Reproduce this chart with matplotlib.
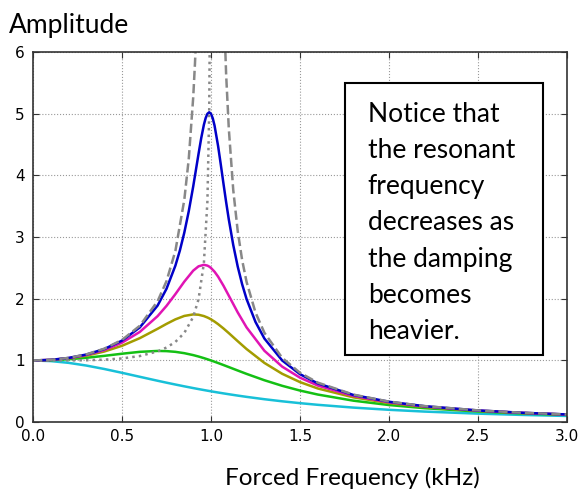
import numpy as np
import matplotlib
matplotlib.use('Agg')
import matplotlib.pyplot as plt
from matplotlib.patches import Rectangle

# forcing frequency (kHz), shared by the damped curves
freq = [0.0, 0.1, 0.2, 0.3, 0.4, 0.5, 0.6, 0.7, 0.75, 0.8, 0.85, 0.9, 0.93, 0.96,
        0.98, 0.99, 1.0, 1.02, 1.04, 1.07, 1.1, 1.15, 1.2, 1.3, 1.4, 1.5, 1.6,
        1.8, 2.0, 2.2, 2.5, 2.75, 3.0]

# lightest damping has a sharp peak, so it gets a finer frequency list
freq_light = [0.0, 0.1, 0.2, 0.3, 0.4, 0.5, 0.6, 0.7, 0.75, 0.8, 0.825, 0.85, 0.875,
              0.9, 0.93, 0.945, 0.96, 0.97, 0.98, 0.99, 1.0, 1.01, 1.02, 1.04, 1.055,
              1.07, 1.085, 1.1, 1.125, 1.15, 1.175, 1.2, 1.25, 1.3, 1.4, 1.5, 1.6,
              1.8, 2.0, 2.2, 2.5, 2.75, 3.0]
amp_light = [1.0, 1.0099, 1.0408, 1.0965, 1.1851, 1.3216, 1.5357, 1.8908, 2.1622,
             2.5384, 2.7818, 3.0728, 3.4188, 3.8208, 4.3499, 4.6046, 4.8218, 4.9309,
             5.0010, 5.0252, 5.0, 4.9262, 4.8086, 4.4756, 4.1777, 3.8694, 3.5692,
             3.2880, 2.8726, 2.5245, 2.2355, 1.9952, 1.6246, 1.3562, 1.0, 0.7779,
             0.6279, 0.4408, 0.3304, 0.2587, 0.1896, 0.1518, 0.1246]

# amplitude for increasing damping
amp_mag = [1.0, 1.0093, 1.0381, 1.0895, 1.1695, 1.2883, 1.4630, 1.7188, 1.8851,
           2.0762, 2.2785, 2.4566, 2.5267, 2.5515, 2.5381, 2.5221, 2.5, 2.4391,
           2.3589, 2.2131, 2.0511, 1.7800, 1.5357, 1.1574, 0.8998, 0.7212, 0.5931,
           0.4250, 0.3221, 0.2538, 0.1871, 0.1503, 0.1236]
amp_olive = [1.0, 1.0082, 1.0336, 1.0780, 1.1447, 1.2380, 1.3618, 1.5136, 1.5933,
             1.6667, 1.7223, 1.7469, 1.7418, 1.7202, 1.6968, 1.6826, 1.6667, 1.6304,
             1.5890, 1.5194, 1.4438, 1.3129, 1.1851, 0.9603, 0.7839, 0.6492, 0.5459,
             0.4021, 0.3095, 0.2463, 0.1831, 0.1478, 0.1220]
amp_green = [1.0, 1.0050, 1.0198, 1.0436, 1.0748, 1.1094, 1.1399, 1.1546, 1.1517,
             1.1399, 1.1184, 1.0871, 1.0641, 1.0382, 1.0196, 1.0099, 1.0, 0.9796,
             0.9586, 0.9261, 0.8930, 0.8373, 0.7824, 0.6795, 0.5891, 0.5121, 0.4475,
             0.3480, 0.2774, 0.2260, 0.1720, 0.1405, 0.1170]
amp_heavy = [1.0, 0.9901, 0.9615, 0.9174, 0.8621, 0.8, 0.7353, 0.6711, 0.64,
             0.6098, 0.5806, 0.5525, 0.5362, 0.5204, 0.5101, 0.5050, 0.5, 0.4901,
             0.4804, 0.4662, 0.4525, 0.4306, 0.4098, 0.3717, 0.3378, 0.3077, 0.2809,
             0.2358, 0.2, 0.1712, 0.1379, 0.1168, 0.1]

# undamped response, two branches either side of resonance
freq_und_lo = [0.0, 0.1, 0.2, 0.3, 0.4, 0.5, 0.6, 0.7, 0.75, 0.8, 0.85, 0.875, 0.9,
               0.91, 0.92, 0.93, 0.96]
amp_und_lo = [1.0, 1.0101, 1.0417, 1.0989, 1.1905, 1.3333, 1.5625, 1.9608, 2.2857,
              2.7778, 3.6036, 4.2667, 5.2632, 5.8173, 6.5104, 7.4019, 12.755]
freq_und_hi = [1.04, 1.07, 1.085, 1.1, 1.125, 1.15, 1.175, 1.2, 1.25, 1.3, 1.4, 1.5,
               1.6, 1.8, 2.0, 2.2, 2.5, 2.75, 3.0]
amp_und_hi = [12.255, 6.9013, 5.6426, 4.7619, 3.7647, 3.1008, 2.6273, 2.2727, 1.7778,
              1.4493, 1.0417, 0.8, 0.6410, 0.4464, 0.3333, 0.2604, 0.1905, 0.1524, 0.125]

# locus of the resonance peaks
freq_peak = [0.0, 0.1, 0.2, 0.3, 0.4, 0.5, 0.6, 0.7, 0.75, 0.8, 0.85, 0.9, 0.93,
             0.96, 0.98, 0.99, 0.995]
amp_peak = [1.0, 1.0001, 1.0008, 1.0041, 1.0130, 1.0328, 1.0719, 1.1471, 1.2095,
            1.3014, 1.4464, 1.7053, 1.9923, 2.5764, 3.5891, 5.0379, 7.098]

fig = plt.figure(figsize=(5.82, 4.92), dpi=100)
ax = fig.add_axes([0.0567, 0.142, 0.9175, 0.752])

ax.plot(freq, amp_heavy, color='#18c0d8', lw=1.8)
ax.plot(freq, amp_green, color='#14c014', lw=1.8)
ax.plot(freq, amp_olive, color='#a39c00', lw=1.8)
ax.plot(freq, amp_mag, color='#e014b4', lw=1.8)
ax.plot(freq_light, amp_light, color='#0000c8', lw=1.8)
ax.plot(freq_und_lo, amp_und_lo, color='#888888', lw=1.8, ls='--')
ax.plot(freq_und_hi, amp_und_hi, color='#888888', lw=1.8, ls='--')
ax.plot(freq_peak, amp_peak, color='#888888', lw=1.8, ls=':')

ax.set_xlim(0, 3)
ax.set_ylim(0, 6)
ax.set_xticks(np.arange(0, 3.01, 0.5))
ax.set_xticklabels(['0.0', '0.5', '1.0', '1.5', '2.0', '2.5', '3.0'])
ax.set_yticks(range(7))
ax.grid(True, ls=':', color='#999999', lw=0.8)
ax.tick_params(direction='in', length=4, labelsize=11, top=True, right=True,
               color='#333333')
ax.tick_params(axis='x', pad=5)
ax.tick_params(axis='y', pad=6)
for s in ax.spines.values():
    s.set_color('#333333')
    s.set_linewidth(1.2)

# note box
ax.add_patch(Rectangle((0.584, 0.181), 0.371, 0.735, transform=ax.transAxes,
                       facecolor='white', edgecolor='black', lw=1.5, zorder=5))
ax.text(0.627, 0.866, 'Notice that\nthe resonant\nfrequency\ndecreases as\nthe damping\nbecomes\nheavier.',
        transform=ax.transAxes, fontsize=19, family='Lato', va='top', ha='left',
        linespacing=1.56, zorder=6)

fig.text(0.015, 0.933, 'Amplitude', fontsize=19, family='Lato', ha='left', va='baseline')
fig.text(0.605, 0.028, 'Forced Frequency (kHz)', fontsize=17.5, family='Lato',
         ha='center', va='center')

fig.savefig('out.png', dpi=100)
